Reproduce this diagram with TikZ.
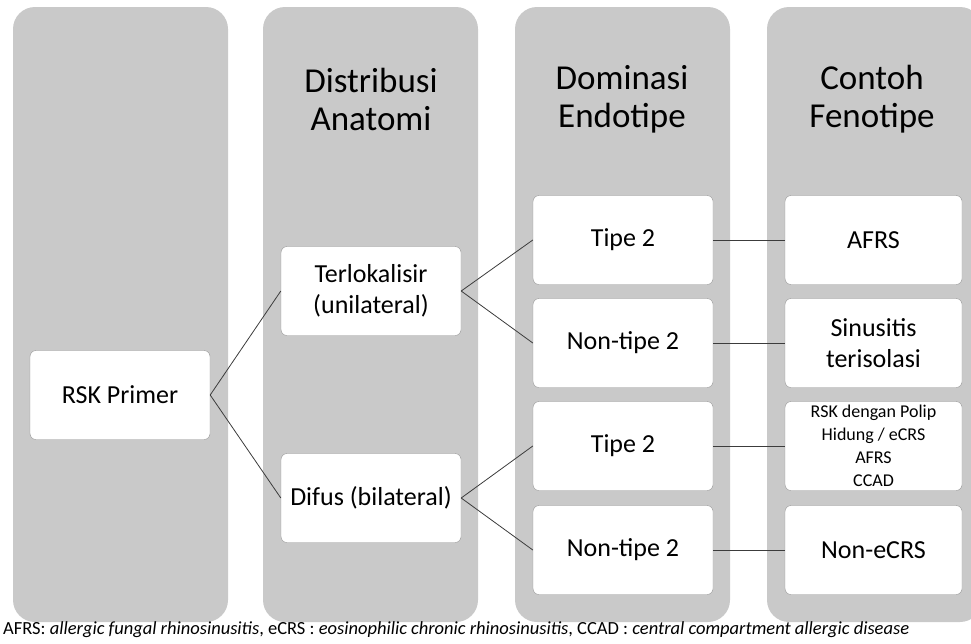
\documentclass[tikz,border=0pt]{standalone}
\usepackage{fontspec}
\setmainfont{Carlito}
\definecolor{colbg}{RGB}{201,201,201}
\definecolor{boxline}{RGB}{150,150,150}
\definecolor{linkline}{RGB}{60,60,60}
\begin{document}
\begin{tikzpicture}[x=1pt,y=-1pt]
        \tikzstyle{column}=[fill=colbg,rounded corners=22pt]
        \tikzstyle{heading}=[align=center,font=\fontsize{35}{38}\selectfont]
        \tikzstyle{stage}=[draw=boxline,fill=white,rounded corners=6pt,minimum width=180pt,minimum height=89pt,align=center,font=\fontsize{26}{31}\selectfont,inner sep=2pt]
        \tikzstyle{edge}=[draw=linkline,line width=0.8pt]
        \useasboundingbox (0,0) rectangle (971,643);
        \clip (0,0) rectangle (971,643);
       \begin{scope}
         % gray columns
         \fill[column] (13,7) rectangle (228,622);
         \fill[column] (263,7) rectangle (478,622);
         \fill[column] (515,7) rectangle (730,622);
         \fill[column] (767,7) rectangle (982,622);
         % headings
         \node [heading] (hanat) at (371,99) {Distribusi\\Anatomi};
         \node [heading] (hendo) at (622,99) {Dominasi\\Endotipe};
         \node [heading] (hfeno) at (872,99) {Contoh\\Fenotipe};
         % boxes
         \node [stage] (prim) at (120,395) {RSK Primer};
         \node [stage] (terl) at (371,291) {Terlokalisir\\(unilateral)};
         \node [stage] (difu) at (371,498) {Difus (bilateral)};
         \node [stage] (tta) at (623,240) {Tipe 2};
         \node [stage] (nta) at (623,343) {Non-tipe 2};
         \node [stage] (ttb) at (623,446) {Tipe 2};
         \node [stage] (ntb) at (623,550) {Non-tipe 2};
         \node [stage, minimum width=177pt] (afrs) at (873.5,240) {AFRS};
         \node [stage, minimum width=177pt] (sinu) at (873.5,343) {Sinusitis\\terisolasi};
         \node [stage, minimum width=177pt, font=\fontsize{18}{23}\selectfont] (polip) at (873.5,446) {RSK dengan Polip\\Hidung / eCRS\\AFRS\\CCAD};
         \node [stage, minimum width=177pt] (necrs) at (873.5,550) {Non-eCRS};
         % links
         \path[edge] (prim.east) -- (terl.west);
         \path[edge] (prim.east) -- (difu.west);
         \path[edge] (terl.east) -- (tta.west);
         \path[edge] (terl.east) -- (nta.west);
         \path[edge] (difu.east) -- (ttb.west);
         \path[edge] (difu.east) -- (ntb.west);
         \path[edge] (tta.east) -- (afrs.west);
         \path[edge] (nta.east) -- (sinu.west);
         \path[edge] (ttb.east) -- (polip.west);
         \path[edge] (ntb.east) -- (necrs.west);
         % footnote
         \node [anchor=base west, font=\fontsize{18.5}{20}\selectfont, inner sep=0pt] (note) at (3,634) {AFRS: \textit{allergic fungal rhinosinusitis}, eCRS : \textit{eosinophilic chronic rhinosinusitis}, CCAD : \textit{central compartment allergic disease}};
        \end{scope}
      \end{tikzpicture}
\end{document}
